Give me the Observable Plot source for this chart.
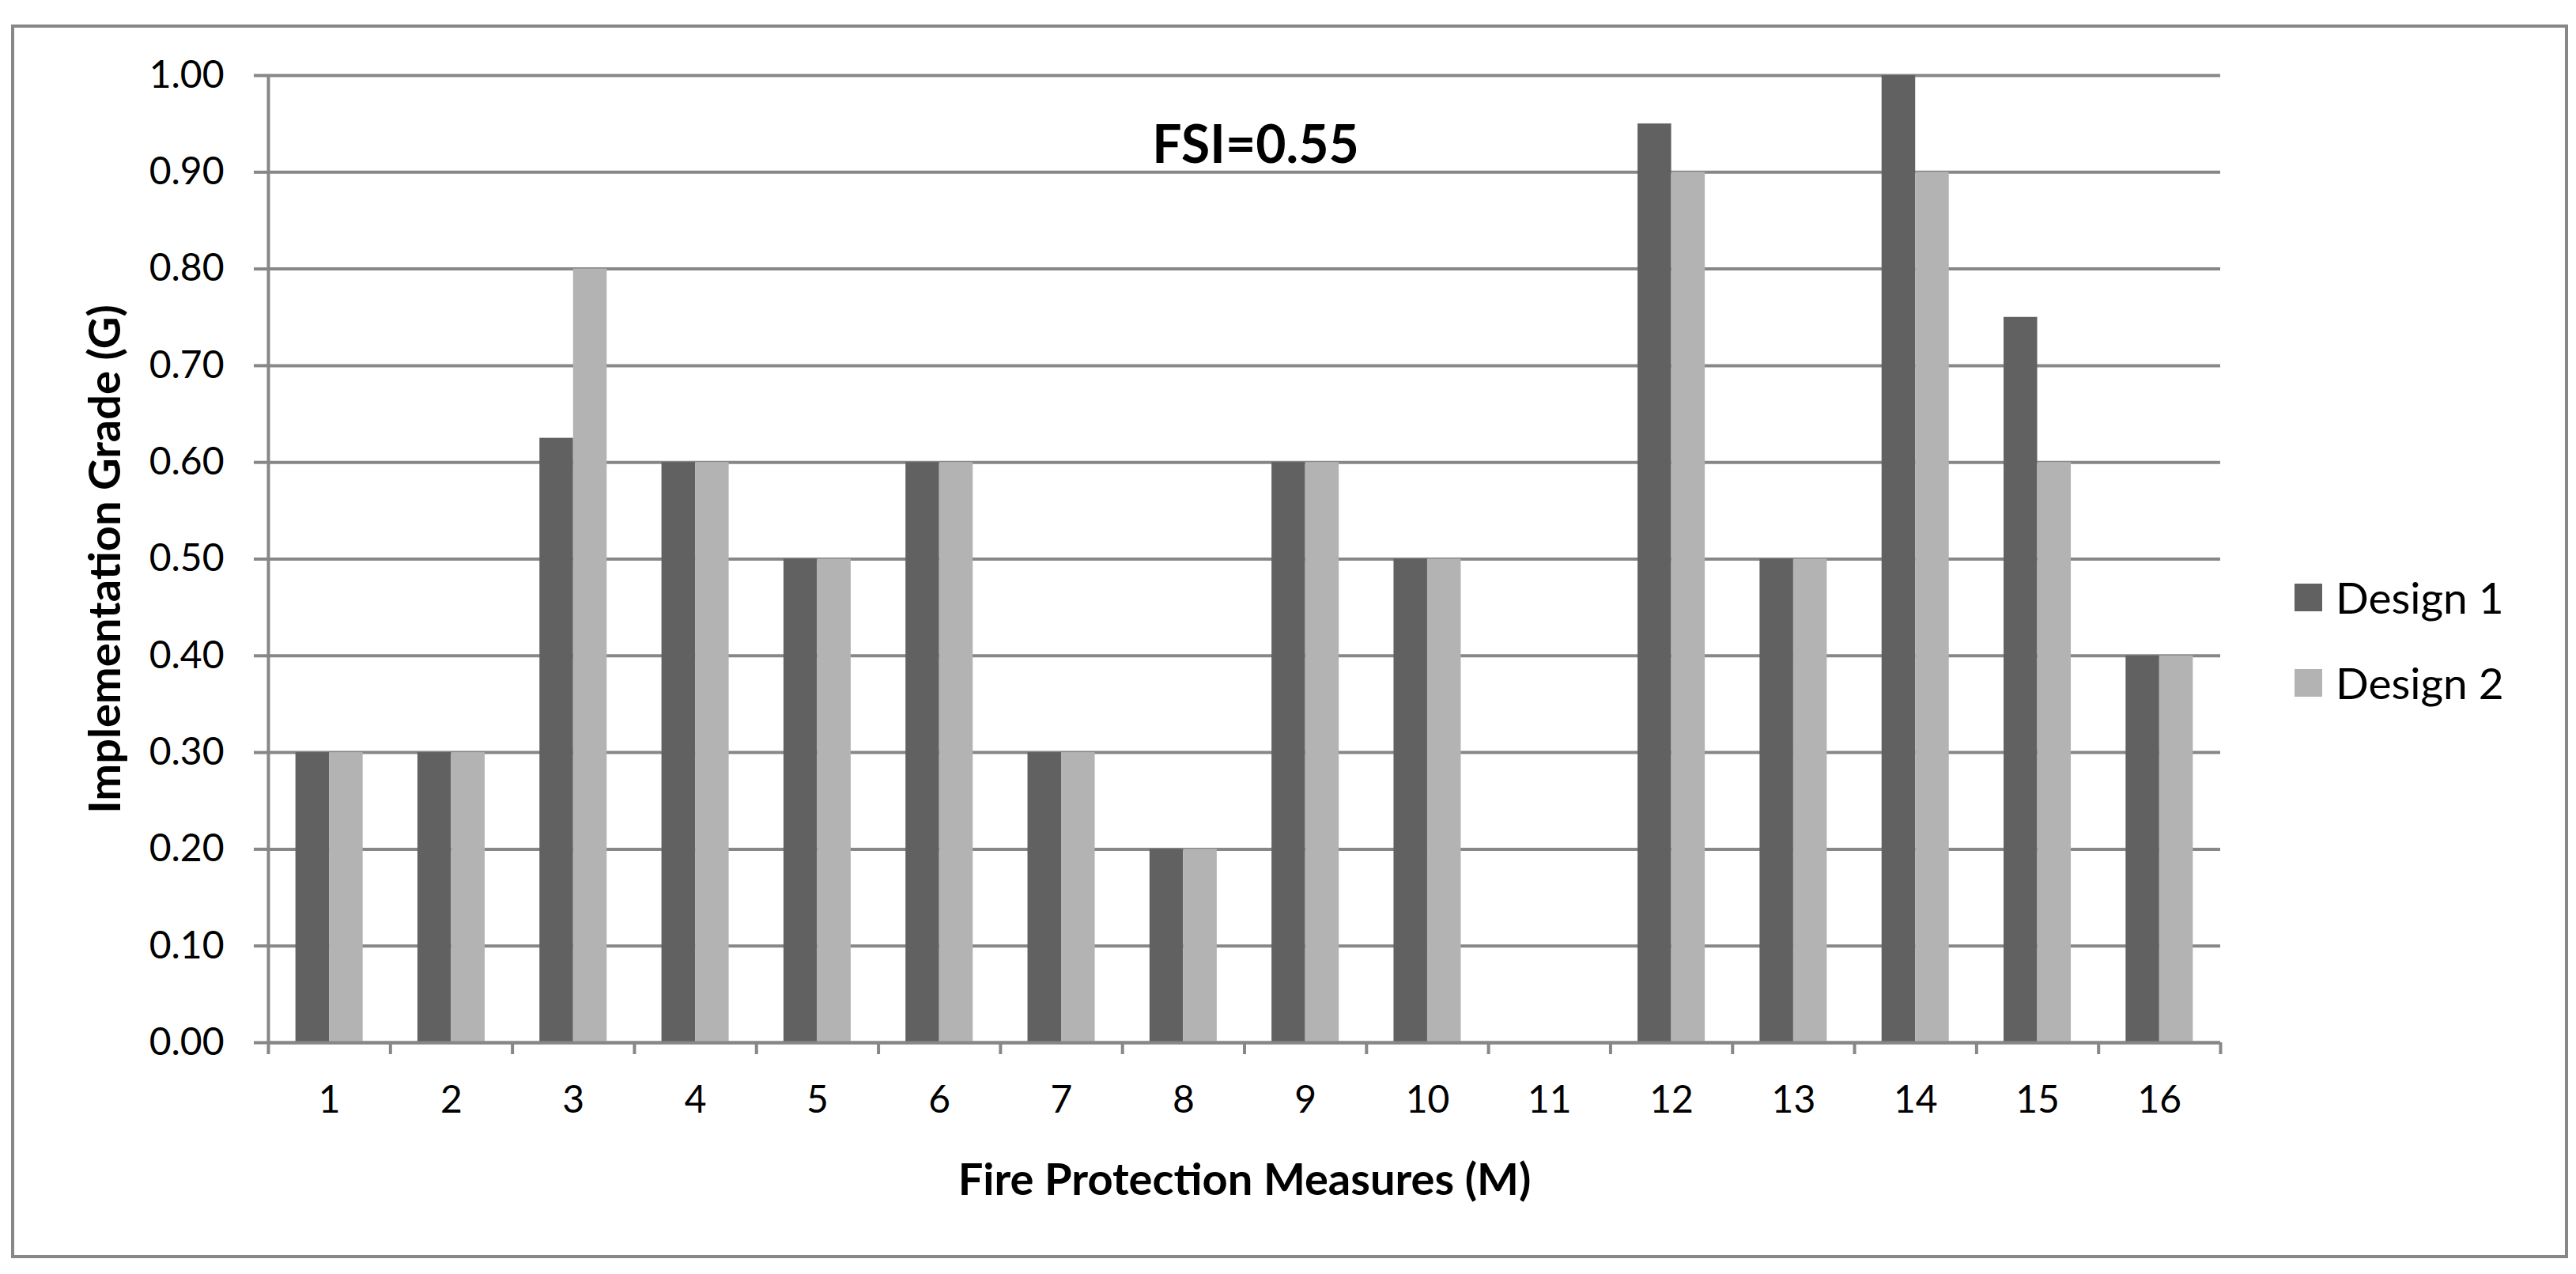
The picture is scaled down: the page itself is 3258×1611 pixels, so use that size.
<!DOCTYPE html>
<html>
<head>
<meta charset="utf-8">
<script src="https://cdn.jsdelivr.net/npm/d3@7"></script>
<script src="https://cdn.jsdelivr.net/npm/@observablehq/plot@0.6"></script>
<style>
  html, body { margin: 0; padding: 0; background: #ffffff; }
  #wrap { position: relative; width: 3258px; height: 1611px; overflow: hidden; background: #fff; font-family: Lato, "Open Sans", sans-serif; }
  #frame { position: absolute; left: 14px; top: 31px; width: 3234px; height: 1560px; border: 4px solid #878787; box-sizing: border-box; }
  #chart { position: absolute; left: 0; top: 0; }
  #legend { position: absolute; left: 2902px; top: 725px; display: flex; flex-direction: column; gap: 48px; }
  .item { display: flex; align-items: center; height: 60px; font-size: 55px; color: #000; }
  .sw { width: 35px; height: 35px; margin-right: 17px; flex: none; }
  g[aria-label="x-axis label"], g[aria-label="y-axis label"] { font-weight: bold; font-size: 56px; }
</style>
</head>
<body>
<div id="wrap">
  <div id="frame"></div>
  <div id="chart"></div>
  <div id="legend"></div>
</div>
<script>
// ---- data ----
const measures = [1, 2, 3, 4, 5, 6, 7, 8, 9, 10, 11, 12, 13, 14, 15, 16];
const design1  = [0.30, 0.30, 0.625, 0.60, 0.50, 0.60, 0.30, 0.20, 0.60, 0.50, 0.00, 0.95, 0.50, 1.00, 0.75, 0.40];
const design2  = [0.30, 0.30, 0.80, 0.60, 0.50, 0.60, 0.30, 0.20, 0.60, 0.50, 0.00, 0.90, 0.50, 0.90, 0.60, 0.40];
const seriesNames = ["Design 1", "Design 2"];
const seriesColors = ["#616161", "#b3b3b3"];
const yTicks = [0.0, 0.1, 0.2, 0.3, 0.4, 0.5, 0.6, 0.7, 0.8, 0.9, 1.0];
const xTitle = "Fire Protection Measures (M)";
const yTitle = "Implementation Grade (G)";
const annotation = "FSI=0.55";

// ---- table for the library ----
const seriesValues = [design1, design2];
const rows = measures.flatMap((m, i) => seriesNames.map((s, k) => ({m, series: s, k, g: seriesValues[k][i]})));
const boundaries = [0, ...measures].map(m => m + 0.5);

// ---- styling ----
const W = 3258, H = 1611;
const barW = 0.2755; // bar width as a fraction of a category
const gridColor = "#878787";

const chart = Plot.plot({
  width: W,
  height: H,
  marginLeft: 339,
  marginRight: W - 2808,
  marginTop: 95,
  marginBottom: H - 1318,
  style: {fontFamily: "Lato, 'Open Sans', sans-serif", fontSize: "48px", color: "#000", background: "transparent", overflow: "visible"},
  x: {domain: [0.5, 16.5]},
  y: {domain: [0, 1]},
  color: {domain: seriesNames, range: seriesColors},
  marks: [
    Plot.gridY(yTicks, {stroke: gridColor, strokeOpacity: 1, strokeWidth: 4}),
    Plot.rectY(rows, {
      x1: d => d.m + (d.k - 1) * barW,
      x2: d => d.m + d.k * barW,
      y1: 0,
      y2: "g",
      fill: "series"
    }),
    Plot.ruleY([0], {stroke: gridColor, strokeWidth: 4}),
    Plot.ruleX([0.5], {stroke: gridColor, strokeWidth: 4}),
    Plot.axisY(yTicks, {
      tickFormat: d3.format(".2f"),
      tickSize: 18,
      tickPadding: 38,
      stroke: gridColor,
      strokeWidth: 4,
      label: yTitle,
      labelAnchor: "center",
      labelOffset: 227,
      labelArrow: "none"
    }),
    Plot.axisX(boundaries, {
      tickSize: 15,
      tickFormat: () => null,
      stroke: gridColor,
      strokeWidth: 4,
      label: null
    }),
    Plot.axisX(measures, {
      tickSize: 0,
      tickPadding: 54,
      tickFormat: d => String(d),
      label: xTitle,
      labelAnchor: "center",
      labelOffset: 192,
      labelArrow: "none"
    }),
    Plot.text([annotation], {frameAnchor: "top", dx: 14, dy: 64, fontWeight: "bold", fontSize: 66, fill: "#000"})
  ]
});
document.getElementById("chart").appendChild(chart);

// ---- legend ----
const legend = document.getElementById("legend");
seriesNames.forEach((s, i) => {
  const item = document.createElement("div");
  item.className = "item";
  const sw = document.createElement("span");
  sw.className = "sw";
  sw.style.background = seriesColors[i];
  const label = document.createElement("span");
  label.textContent = s;
  item.appendChild(sw);
  item.appendChild(label);
  legend.appendChild(item);
});
</script>
</body>
</html>
